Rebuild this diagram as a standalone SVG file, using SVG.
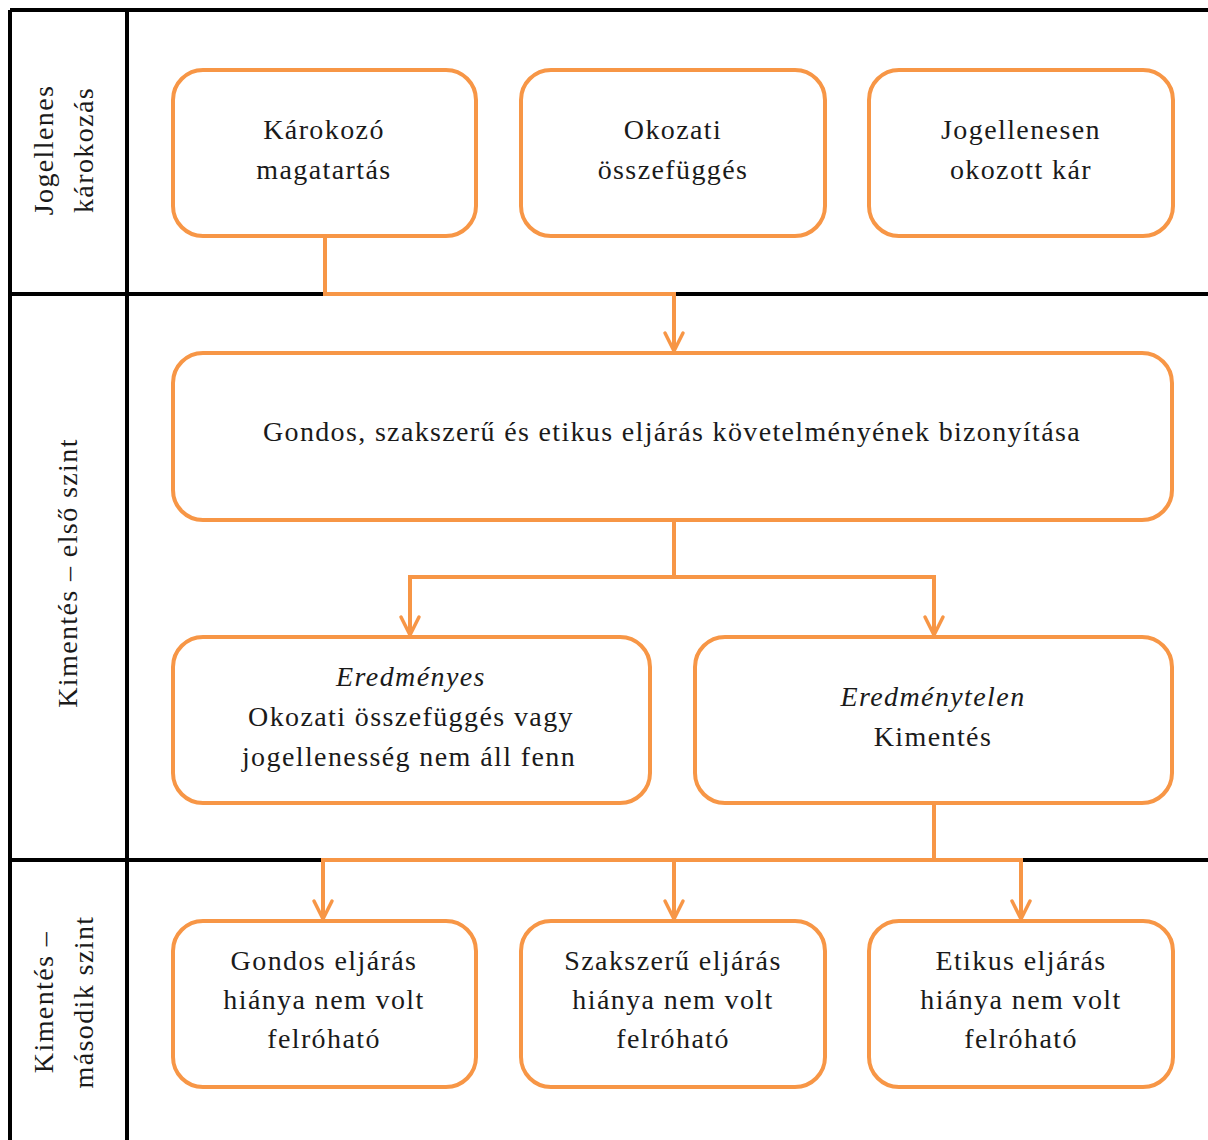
<svg xmlns="http://www.w3.org/2000/svg" width="1208" height="1140" viewBox="0 0 1208 1140">
<style>
.frame{stroke:#000;stroke-width:4;fill:none}
.box{fill:#fff;stroke:#F79646;stroke-width:4}
.conn{stroke:#F79646;stroke-width:4;fill:none}
.t{font-family:"Liberation Serif","Times New Roman",serif;font-size:28px;letter-spacing:1.4px;fill:#1a1a1a;text-anchor:middle}
.i{font-style:italic}
</style>
<defs>
<marker id="arr" markerWidth="24" markerHeight="24" refX="21" refY="12" orient="auto" markerUnits="userSpaceOnUse" viewBox="0 0 24 24">
<path d="M3,3 L21,12 L3,21" fill="none" stroke="#F79646" stroke-width="3.5" stroke-linecap="round" stroke-linejoin="round"/>
</marker>
</defs>
<rect width="1208" height="1140" fill="#fff"/>
<g id="frame">
<line class="frame" x1="10" y1="10" x2="1208" y2="10"/>
<line class="frame" x1="10" y1="10" x2="10" y2="1140"/>
<line class="frame" x1="127" y1="10" x2="127" y2="1140"/>
<line class="frame" x1="10" y1="294" x2="1208" y2="294"/>
<line class="frame" x1="10" y1="860" x2="1208" y2="860"/>
<text class="t" transform="translate(53,150) rotate(-90)">Jogellenes</text>
<text class="t" transform="translate(93,150) rotate(-90)">károkozás</text>
<text class="t" transform="translate(77,573) rotate(-90)">Kimentés – első szint</text>
<text class="t" transform="translate(53,1002) rotate(-90)">Kimentés –</text>
<text class="t" transform="translate(93,1002) rotate(-90)">második szint</text>
</g>
<g id="connectors">
<path class="conn" d="M325,236 V294 H674 V351" marker-end="url(#arr)"/>
<path class="conn" d="M674,520 V577 H410 V635" marker-end="url(#arr)"/>
<path class="conn" d="M674,577 H934 V635" marker-end="url(#arr)"/>
<path class="conn" d="M934,803 V860 H323 V919" marker-end="url(#arr)"/>
<path class="conn" d="M674,860 V919" marker-end="url(#arr)"/>
<path class="conn" d="M934,860 H1021 V919" marker-end="url(#arr)"/>
</g>
<g id="n1"><rect class="box" x="173" y="70" width="303" height="166" rx="30"/>
<text class="t" x="324" y="139">Károkozó</text><text class="t" x="324" y="179">magatartás</text></g>
<g id="n2"><rect class="box" x="521" y="70" width="304" height="166" rx="30"/>
<text class="t" x="673" y="139">Okozati</text><text class="t" x="673" y="179">összefüggés</text></g>
<g id="n3"><rect class="box" x="869" y="70" width="304" height="166" rx="30"/>
<text class="t" x="1021" y="139">Jogellenesen</text><text class="t" x="1021" y="179">okozott kár</text></g>
<g id="n4"><rect class="box" x="173" y="353" width="999" height="167" rx="30"/>
<text class="t" x="672" y="441" textLength="818" lengthAdjust="spacing">Gondos, szakszerű és etikus eljárás követelményének bizonyítása</text></g>
<g id="n5"><rect class="box" x="173" y="637" width="477" height="166" rx="30"/>
<text class="t i" x="411" y="686">Eredményes</text><text class="t" x="411" y="726">Okozati összefüggés vagy</text><text class="t" x="409" y="766">jogellenesség nem áll fenn</text></g>
<g id="n6"><rect class="box" x="695" y="637" width="477" height="166" rx="30"/>
<text class="t i" x="933" y="706">Eredménytelen</text><text class="t" x="933" y="746">Kimentés</text></g>
<g id="n7"><rect class="box" x="173" y="921" width="303" height="166" rx="30"/>
<text class="t" x="324" y="970">Gondos eljárás</text><text class="t" x="324" y="1009">hiánya nem volt</text><text class="t" x="324" y="1048">felróható</text></g>
<g id="n8"><rect class="box" x="521" y="921" width="304" height="166" rx="30"/>
<text class="t" x="673" y="970">Szakszerű eljárás</text><text class="t" x="673" y="1009">hiánya nem volt</text><text class="t" x="673" y="1048">felróható</text></g>
<g id="n9"><rect class="box" x="869" y="921" width="304" height="166" rx="30"/>
<text class="t" x="1021" y="970">Etikus eljárás</text><text class="t" x="1021" y="1009">hiánya nem volt</text><text class="t" x="1021" y="1048">felróható</text></g>
</svg>
